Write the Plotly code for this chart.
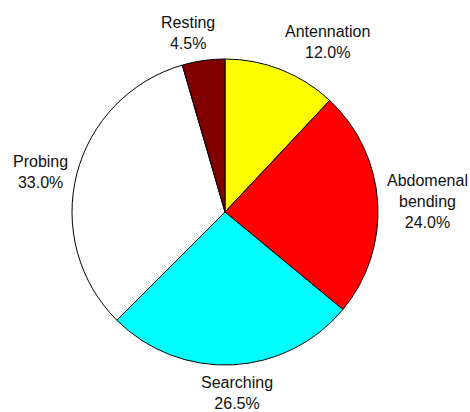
import math
import plotly.graph_objects as go

labels = ["Antennation", "Abdomenal<br>bending", "Searching", "Probing", "Resting"]
values = [12.0, 24.0, 26.5, 33.0, 4.5]
colors = ["#FFFF00", "#FF0000", "#00FFFF", "#FFFFFF", "#800000"]

W, H = 470, 412
dom_x = [72 / W, 378 / W]
dom_y = [1 - 365 / H, 1 - 59 / H]

fig = go.Figure(go.Pie(
    labels=labels,
    values=values,
    sort=False,
    direction="clockwise",
    rotation=0,
    marker=dict(colors=colors, line=dict(color="black", width=1)),
    textinfo="none",
    hoverinfo="label+percent",
    showlegend=False,
    domain=dict(x=dom_x, y=dom_y),
))

# label placement computed from slice angles
cx = (dom_x[0] + dom_x[1]) / 2
cy = (dom_y[0] + dom_y[1]) / 2
R_px = (dom_x[1] - dom_x[0]) * W / 2
dist = R_px + 8
total = sum(values)
cum = 0.0
annotations = []
for lab, v in zip(labels, values):
    mid = (cum + v / 2) / total * 2 * math.pi
    cum += v
    s, c = math.sin(mid), math.cos(mid)
    x = cx + dist * s / W
    y = cy + dist * c / H
    xa = "left" if s > 0.3 else ("right" if s < -0.3 else "center")
    ya = "bottom" if c > 0.3 else ("top" if c < -0.3 else "middle")
    xshift = 100 * s if xa == "center" else 0
    annotations.append(dict(
        x=x, y=y, xref="paper", yref="paper", xanchor=xa, yanchor=ya,
        xshift=xshift, borderpad=0,
        text=f"{lab}<br>{v:.1f}%", showarrow=False, align="center",
        font=dict(family="Arial, Liberation Sans, sans-serif", size=16, color="#111111"),
    ))

fig.update_layout(
    width=W, height=H,
    margin=dict(l=0, r=0, t=0, b=0),
    paper_bgcolor="white",
    plot_bgcolor="white",
    annotations=annotations,
)

fig.write_html("out.html", config={"displayModeBar": False},
               post_script="document.body.style.margin='0';")
